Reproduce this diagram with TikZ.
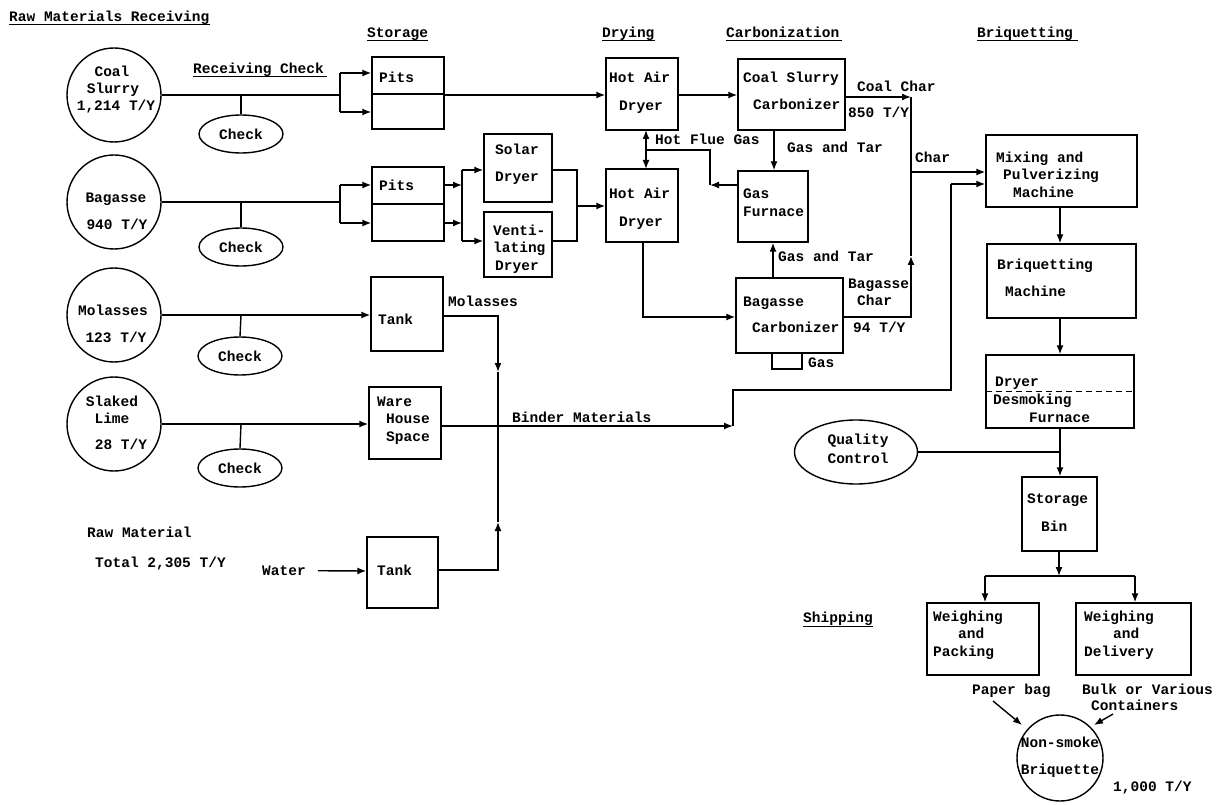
\documentclass[tikz,border=0pt]{standalone}
\usepackage{fontspec}
\setmainfont{Liberation Mono}
\usetikzlibrary{arrows.meta,shapes.geometric}
\newcommand\bx[5]{\node[boxsty,minimum width={#4-#2},minimum height={#5-#3}] (#1) at ({(#2+#4)/2},{(#3+#5)/2}) {};}
\begin{document}
\begin{tikzpicture}[x=1pt,y=-1pt,
  every node/.style={font=\fontsize{14.5}{17}\selectfont\bfseries},
  ln/.style={line width=1.4pt},
  arr/.style={line width=1.4pt,-{Latex[length=9pt,width=7pt]}},
  boxsty/.style={draw,line width=1.4pt,rectangle,inner sep=0pt},
  circsty/.style={draw,line width=1.4pt,circle,inner sep=0pt},
  ellsty/.style={draw,line width=1.4pt,ellipse,inner sep=0pt},
  t/.style={anchor=base west,inner sep=0pt,yshift=-4.5pt},
  tc/.style={anchor=base,inner sep=0pt,yshift=-4.5pt}]
\useasboundingbox (0,0) rectangle (1227,805);
\fill[white] (0,0) rectangle (1227,805);

% ---------- headings ----------
\node[t] (hraw) at (9,17) {Raw Materials Receiving};
\draw[line width=1pt] (9,25) -- (210,25);
\node[t] (hsto) at (367,33) {Storage};
\draw[line width=1pt] (367,41) -- (428,41);
\node[t] (hdry) at (602,33) {Drying};
\draw[line width=1pt] (602,41) -- (655,41);
\node[t] (hcar) at (726,33) {Carbonization};
\draw[line width=1pt] (726,41) -- (842,41);
\node[t] (hbri) at (977,33) {Briquetting};
\draw[line width=1pt] (977,41) -- (1078,41);
\node[t] (hrec) at (193,69) {Receiving Check};
\draw[line width=1pt] (193,77) -- (327,77);
\node[t] (hshp) at (803,618) {Shipping};
\draw[line width=1pt] (803,626) -- (873,626);

% ---------- raw material circles ----------
\node[circsty,minimum size=94] (coal) at (114,95) {};
\node[tc] (coal1) at (112,72) {Coal};
\node[tc] (coal2) at (113,89) {Slurry};
\node[tc] (coal3) at (116,106) {1,214 T/Y};
\node[circsty,minimum size=94] (bag) at (114,202) {};
\node[tc] (bag1) at (116,198) {Bagasse};
\node[tc] (bag2) at (117,225) {940 T/Y};
\node[circsty,minimum size=94] (mol) at (114,315) {};
\node[tc] (mol1) at (113,311) {Molasses};
\node[tc] (mol2) at (116,338) {123 T/Y};
\node[circsty,minimum size=94] (lime) at (114,424) {};
\node[tc] (lime1) at (112,402) {Slaked};
\node[tc] (lime2) at (112,419) {Lime};
\node[tc] (lime3) at (121,445) {28 T/Y};

% check ellipses
\node[ellsty,minimum width=84,minimum height=38] (chk1) at (241,134) {Check};
\node[ellsty,minimum width=84,minimum height=38] (chk2) at (241,247) {Check};
\node[ellsty,minimum width=84,minimum height=38] (chk3) at (240,356) {Check};
\node[ellsty,minimum width=84,minimum height=38] (chk4) at (240,468) {Check};

\node[t] (rm1) at (87,533) {Raw Material};
\node[t] (rm2) at (95,563) {Total 2,305 T/Y};

% ---------- storage ----------
\bx{pits1}{372}{57}{444}{129}
\draw[ln] (372,94) -- (444,94);
\node[t] (pits1t) at (379,78) {Pits};
\bx{pits2}{372}{167}{444}{241}
\draw[ln] (372,204) -- (444,204);
\node[t] (pits2t) at (379,186) {Pits};
\bx{solar}{484}{134}{552}{202}
\node[t] (sol1) at (495,150) {Solar};
\node[t] (sol2) at (495,177) {Dryer};
\bx{vent}{484}{212}{552}{277}
\node[t] (ven1) at (493,231) {Venti-};
\node[t] (ven2) at (493,248) {lating};
\node[t] (ven3) at (495,266) {Dryer};
\bx{tank1}{371}{277}{443}{351}
\node[t] (tank1t) at (378,320) {Tank};
\bx{ware}{369}{387}{441}{459}
\node[t] (ware1) at (377,402) {Ware};
\node[t] (ware2) at (386,419) {House};
\node[t] (ware3) at (386,437) {Space};
\bx{tank2}{367}{537}{438}{608}
\node[t] (tank2t) at (377,571) {Tank};
\node[t] (water) at (262,571) {Water};
\node[t] (molt) at (448,302) {Molasses};
\node[t] (bind) at (512,418) {Binder Materials};

% ---------- drying ----------
\bx{dry1}{606}{58}{678}{130}
\node[t] (dry1a) at (609,78) {Hot Air};
\node[t] (dry1b) at (619,106) {Dryer};
\bx{dry2}{606}{169}{678}{242}
\node[t] (dry2a) at (609,194) {Hot Air};
\node[t] (dry2b) at (619,222) {Dryer};
\node[t] (hfg) at (655,140) {Hot Flue Gas};

% ---------- carbonization ----------
\bx{ccarb}{738}{59}{845}{130}
\node[t] (cc1) at (743,78) {Coal Slurry};
\node[t] (cc2) at (753,105) {Carbonizer};
\node[t] (gat1) at (787,148) {Gas and Tar};
\bx{furn}{738}{171}{808}{242}
\node[t] (fu1) at (743,194) {Gas};
\node[t] (fu2) at (743,212) {Furnace};
\node[t] (gat2) at (778,257) {Gas and Tar};
\bx{bcarb}{736}{278}{843}{353}
\node[t] (bc1) at (743,302) {Bagasse};
\node[t] (bc2) at (752,328) {Carbonizer};
\node[t] (gasl) at (808,363) {Gas};
\node[t] (bch1) at (848,284) {Bagasse};
\node[t] (bch2) at (857,301) {Char};
\node[t] (bch3) at (853,328) {94 T/Y};
\node[t] (cch1) at (857,87) {Coal Char};
\node[t] (cch2) at (848,113) {850 T/Y};
\node[t] (charl) at (915,158) {Char};

% ---------- briquetting ----------
\bx{mix}{986}{135}{1137}{207}
\node[t] (mix1) at (996,158) {Mixing and};
\node[t] (mix2) at (1003,175) {Pulverizing};
\node[t] (mix3) at (1013,193) {Machine};
\bx{briq}{987}{244}{1136}{318}
\node[t] (br1) at (997,265) {Briquetting};
\node[t] (br2) at (1005,292) {Machine};
\bx{ddf}{986}{355}{1134}{428}
\draw[line width=1pt,dash pattern=on 6pt off 4pt] (986,391) -- (1134,391);
\node[t] (dd1) at (995,382) {Dryer};
\node[t] (dd2) at (993,400) {Desmoking};
\node[t] (dd3) at (1029,418) {Furnace};
\node[ellsty,minimum width=123,minimum height=64] (qc) at (856,452) {};
\node[tc] (qc1) at (858,440) {Quality};
\node[tc] (qc2) at (858,459) {Control};
\bx{bin}{1022}{477}{1097}{551}
\node[t] (bin1) at (1027,499) {Storage};
\node[t] (bin2) at (1041,527) {Bin};
\bx{wp}{927}{603}{1039}{675}
\node[t] (wp1) at (933,617) {Weighing};
\node[t] (wp2) at (958,634) {and};
\node[t] (wp3) at (933,652) {Packing};
\bx{wd}{1076}{603}{1191}{675}
\node[t] (wd1) at (1084,617) {Weighing};
\node[t] (wd2) at (1113,634) {and};
\node[t] (wd3) at (1084,652) {Delivery};
\node[t] (pbag) at (972,690) {Paper bag};
\node[t] (bulk1) at (1082,690) {Bulk or Various};
\node[t] (bulk2) at (1091,706) {Containers};
\node[circsty,minimum size=86] (nsb) at (1060,758) {};
\node[tc] (nsb1) at (1060,743) {Non-smoke};
\node[tc] (nsb2) at (1060,770) {Briquette};
\node[t] (nsb3) at (1113,787) {1,000 T/Y};

% ---------- connectors: receiving ----------
\draw[ln] (coal.east) -- (340,95);
\draw[ln] (241,95) -- (chk1.north);
\draw[ln] (340,73) -- (340,112);
\draw[arr] (340,73) -- (pits1.west |- 0,73);
\draw[arr] (340,112) -- (pits1.west |- 0,112);

\draw[ln] (bag.east) -- (340,202);
\draw[ln] (241,202) -- (chk2.north);
\draw[ln] (340,185) -- (340,223);
\draw[arr] (340,185) -- (pits2.west |- 0,185);
\draw[arr] (340,223) -- (pits2.west |- 0,223);

\draw[arr] (mol.east) -- (tank1.west |- 0,315);
\draw[ln] (241,315) -- (chk3.north);
\draw[arr] (lime.east) -- (ware.west |- 0,424);
\draw[ln] (241,424) -- (chk4.north);
\draw[arr] (water.east) ++(12,0) -- (tank2.west |- 0,571);

% ---------- storage -> drying ----------
\draw[arr] (pits1.east |- 0,95) -- (dry1.west |- 0,95);
\draw[arr] (pits2.east |- 0,185) -- (462,185);
\draw[arr] (pits2.east |- 0,223) -- (462,223);
\draw[ln] (462,170) -- (462,241);
\draw[arr] (462,170) -- (solar.west |- 0,170);
\draw[arr] (462,241) -- (vent.west |- 0,241);
\draw[ln] (solar.east |- 0,170) -- (577,170) -- (577,241) -- (vent.east |- 0,241);
\draw[arr] (577,206) -- (dry2.west |- 0,206);

% ---------- binder ----------
\draw[arr] (tank1.east |- 0,316) -| (498,372);
\draw[ln] (498,372) -- (498,426);
\draw[arr] (tank2.east |- 0,570) -| (498,522);
\draw[ln] (498,522) -- (498,426);
\draw[arr] (ware.east |- 0,426) -- (733,426);
\draw[ln] (733,426) -- (733,390) -- (951,390) -- (951,184);
\draw[arr] (951,184) -- (mix.west |- 0,184);

% ---------- drying / carbonization ----------
\draw[arr] (dry1.east |- 0,95) -- (ccarb.west |- 0,95);
\draw[arr] (646,150) -- (646,130);
\draw[arr] (646,150) -- (646,169);
\draw[arr] (furn.west |- 0,185) -- (710,185);
\draw[ln] (710,185) -- (710,150) -- (646,150);
\draw[arr] (774,130) -- (furn.north -| 774,0);
\draw[arr] (773,278) -- (furn.south -| 773,0);
\draw[arr] (643,242) |- (bcarb.west |- 0,317);
\draw[ln] (772,353) -- (772,369) -- (802,369) -- (802,353);
\draw[arr] (ccarb.east |- 0,97) -- (911,97);
\draw[ln] (911,97) -- (911,256);
\draw[arr] (bcarb.east |- 0,317) -| (911,256);
\draw[arr] (911,172) -- (mix.west |- 0,172);

% ---------- briquetting ----------
\draw[arr] (mix.south -| 1060,0) -- (briq.north -| 1060,0);
\draw[arr] (briq.south -| 1060,0) -- (ddf.north -| 1060,0);
\draw[arr] (ddf.south -| 1060,0) -- (bin.north -| 1060,0);
\draw[ln] (qc.east) -- (1060,452);
\draw[arr] (bin.south -| 1059,0) -- (1059,576);
\draw[ln] (985,576) -- (1135,576);
\draw[arr] (985,576) -- (wp.north -| 985,0);
\draw[arr] (1135,576) -- (wd.north -| 1135,0);
\draw[arr] (993,701) -- (1022,725);
\draw[arr] (1113,714) -- (1094,725);
\end{tikzpicture}
\end{document}
